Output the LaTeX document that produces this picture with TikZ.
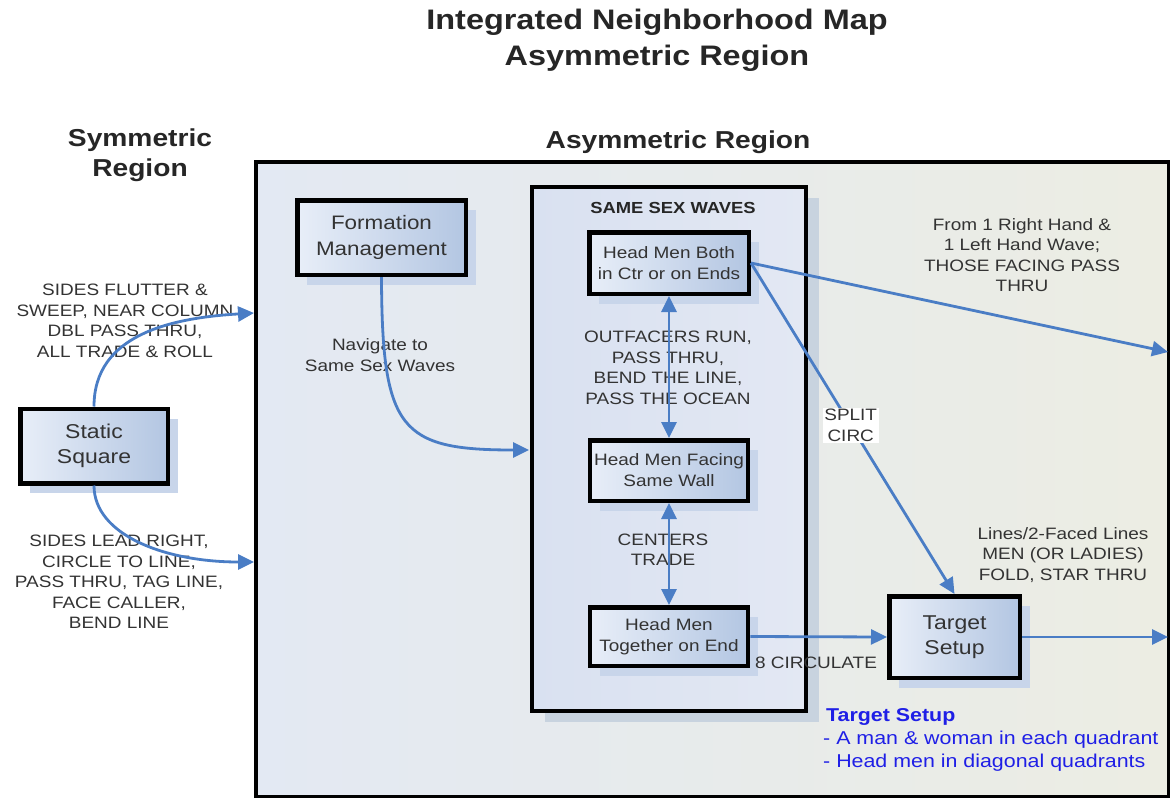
\documentclass[tikz,border=0pt]{standalone}
\usepackage{fontspec}
\setmainfont[FakeStretch=1.15]{Liberation Sans}
\usetikzlibrary{arrows.meta,shadows}
\definecolor{outerL}{HTML}{E3E9F3}
\definecolor{outerR}{HTML}{ECEDE3}
\definecolor{innerL}{HTML}{D9E1F1}
\definecolor{innerR}{HTML}{E3E8F3}
\definecolor{nodeL}{HTML}{E8EEF8}
\definecolor{nodeR}{HTML}{B3C6E2}
\definecolor{nshadow}{HTML}{C8D5EA}
\definecolor{ishadow}{HTML}{C8D3DF}
\definecolor{arrowc}{HTML}{4A7DC5}
\definecolor{txt}{HTML}{333333}
\definecolor{legblue}{HTML}{1F1FE6}
\begin{document}
\begin{tikzpicture}[x=1pt,y=-1pt,
  region/.style={draw=black, line width=3.5pt, left color=outerL, right color=outerR, inner sep=0pt},
  wavebox/.style={draw=black, line width=4pt, left color=innerL, right color=innerR, inner sep=0pt,
    drop shadow={shadow xshift=13pt, shadow yshift=-11pt, fill=ishadow, opacity=1}},
  box/.style={draw=black, line width=4.5pt, left color=nodeL, right color=nodeR, align=center, text=txt, inner sep=2pt,
    drop shadow={shadow xshift=10pt, shadow yshift=-10pt, fill=nshadow, opacity=1}},
  bigtxt/.style={font=\fontsize{20}{25}\selectfont},
  midtxt/.style={font=\fontsize{19.5}{26}\selectfont},
  smalltxt/.style={font=\fontsize{16.5}{21}\selectfont},
  lbl/.style={text=txt, align=center, inner sep=0pt, font=\fontsize{16.5}{20.5}\selectfont},
  head/.style={text=black!85, align=center, inner sep=0pt, font=\bfseries\fontsize{24.5}{30}\selectfont},
  conn/.style={draw=arrowc, line width=2.8pt, -{Triangle[length=16pt,width=15pt]}},
  dconn/.style={draw=arrowc, line width=2.8pt, {Triangle[length=16pt,width=15pt]}-{Triangle[length=16pt,width=15pt]}}
]
\useasboundingbox (0,0) rectangle (1173,801);

% titles
\node[text=black!85, align=center, inner sep=0pt, font=\bfseries\fontsize{28.2}{36}\selectfont] (title) at (657,40)
  {Integrated Neighborhood Map\\Asymmetric Region};
\node[head] (symhead) at (140,155) {Symmetric\\Region};
\node[head] (asymhead) at (678,142) {Asymmetric Region};

% regions
\node[region, minimum width=912.5pt, minimum height=634.5pt] (asym) at (712,479) {};
\node[wavebox, minimum width=274pt, minimum height=524pt] (waves) at (669,449) {};
\node[text=black!85, inner sep=0pt, font=\bfseries\fontsize{16}{20}\selectfont] (wavestitle) at (673,208) {SAME SEX WAVES};

% boxes
\node[box, bigtxt, minimum width=147.5pt, minimum height=74.5pt] (static) at (94,446) {Static\\Square};
\node[box, midtxt, minimum width=168.5pt, minimum height=74.5pt] (formation) at (381.5,237.5) {Formation\\Management};
\node[box, smalltxt, minimum width=159.5pt, minimum height=61.5pt] (hmb) at (669,263) {Head Men Both\\in Ctr or on Ends};
\node[box, smalltxt, minimum width=158pt, minimum height=60.5pt] (hmf) at (669,470.5) {Head Men Facing\\Same Wall};
\node[box, smalltxt, minimum width=158pt, minimum height=58.5pt] (hmt) at (669,636.5) {Head Men\\Together on End};
\node[box, bigtxt, minimum width=130.5pt, minimum height=81.5pt] (target) at (954.5,637) {Target\\Setup};

% labels
\node[lbl] (l1) at (125,321) {SIDES FLUTTER \&\\SWEEP, NEAR COLUMN\\DBL PASS THRU,\\ALL TRADE \& ROLL};
\node[lbl] (l2) at (119,582) {SIDES LEAD RIGHT,\\CIRCLE TO LINE,\\PASS THRU, TAG LINE,\\FACE CALLER,\\BEND LINE};
\node[lbl] (nav) at (380,355) {Navigate to\\Same Sex Waves};
\node[lbl] (outf) at (668,368) {OUTFACERS RUN,\\PASS THRU,\\BEND THE LINE,\\PASS THE OCEAN};
\node[lbl] (ctr) at (663,549.5) {CENTERS\\TRADE};
\node[lbl] (from) at (1022,255) {From 1 Right Hand \&\\1 Left Hand Wave;\\THOSE FACING PASS\\THRU};
\node[lbl] (linesl) at (1063,555) {Lines/2-Faced Lines\\MEN (OR LADIES)\\FOLD, STAR THRU};
\node[text=legblue, align=left, inner sep=0pt, anchor=west, font=\fontsize{18.6}{23}\selectfont] (legend) at (823,740)
  {\hspace{3pt}\textbf{Target Setup}\\- A man \& woman in each quadrant\\- Head men in diagonal quadrants};

% free ends
\coordinate (in1) at (254,313);
\coordinate (in2) at (254,562);
\coordinate (in3) at (529,450);
\coordinate (out1) at (1168,352);
\coordinate (out2) at (1168,637);

% connectors
\draw[conn] (static.north) .. controls (94,335) and (170,318) .. (in1);
\draw[conn] (static.south) .. controls (94,535) and (165,562) .. (in2);
\draw[conn] (formation.south) .. controls (382,430) and (400,450) .. (in3);
\draw[dconn] (hmb.south) -- (hmf.north);
\draw[dconn] (hmf.south) -- (hmt.north);
\draw[conn] (hmt.east) -- (target.west);
\node[lbl] (circ) at (816,663) {8 CIRCULATE};
\draw[conn] (hmb.east) -- (out1);
\draw[conn] (hmb.east) -- (target.north)
  node[lbl, pos=0.49, fill=white, inner sep=1.5pt] (split) {SPLIT\\CIRC};
\draw[conn] (target.east) -- (out2);
\end{tikzpicture}
\end{document}
